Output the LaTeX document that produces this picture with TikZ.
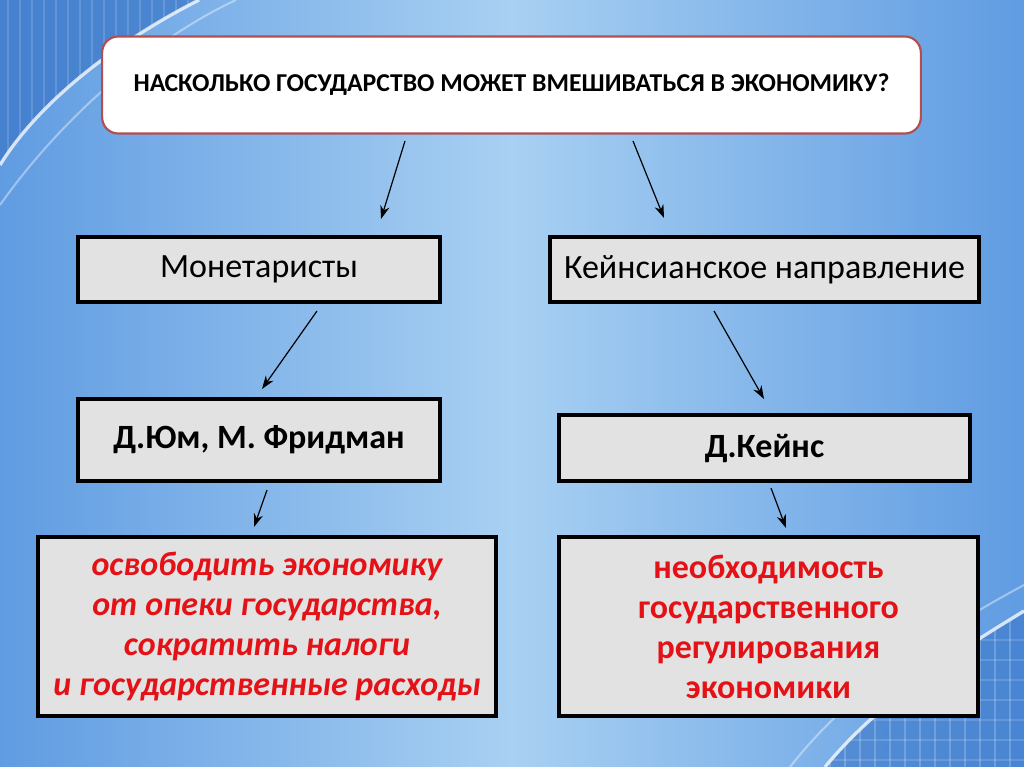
\documentclass[tikz,border=0pt]{standalone}
\usepackage{fontspec}
\setmainfont{Carlito}
\usetikzlibrary{arrows.meta}

\definecolor{bgdark}{RGB}{96,156,226}
\definecolor{bglight}{RGB}{168,208,242}
\definecolor{cornerblue}{RGB}{58,118,200}
\definecolor{boxgrey}{RGB}{226,226,226}
\definecolor{frame}{RGB}{178,78,80}
\definecolor{textred}{RGB}{228,18,22}

\begin{document}
\begin{tikzpicture}[x=0.75pt,y=0.75pt,yscale=-1,xscale=1,
		greybox/.style={draw=black,line width=2.6pt,fill=boxgrey,inner sep=2pt,align=center,font=\fontsize{25.5}{30}\selectfont},
		redtext/.style={text=textred,font=\fontsize{25.5}{30}\selectfont\bfseries},
		link/.style={line width=0.9pt,-{Stealth[length=10pt,width=7pt]}}]
				\useasboundingbox (0,0) rectangle (1024,767);

				%Shape: Background
				\fill [left color=bgdark,right color=bgdark,middle color=bglight] (0,0) rectangle (1024,767);
				%Shape: Corner top left
				\begin{scope}
				\clip (0,0) -- (197,0) .. controls (120,40) and (40,100) .. (0,163) -- cycle;
				\fill [cornerblue,opacity=0.7] (0,0) rectangle (200,170);
				\foreach \s in {8,20,...,200} {\draw [white,opacity=0.15,line width=2pt] (\s,0) -- (\s,170);}
				\end{scope}
				%Shape: Corner bottom right
				\begin{scope}
				\clip (827,767) .. controls (880,700) and (960,650) .. (1024,613) -- (1024,767) -- cycle;
				\fill [cornerblue,opacity=0.6] (820,600) rectangle (1024,767);
				\foreach \s in {830,845,...,1024} {\draw [white,opacity=0.2,line width=1.5pt] (\s,600) -- (\s,767);}
				\foreach \s in {640,660,...,767} {\draw [white,opacity=0.15,line width=1pt] (820,\s) -- (1024,\s);}
				\end{scope}
				%Shape: Arcs
				\draw [white,opacity=0.75,line width=2.5pt] (0,165) .. controls (40,100) and (120,40) .. (199,0);
				\draw [white,opacity=0.4,line width=1.5pt] (0,205) .. controls (60,120) and (150,40) .. (236,0);
				\draw [white,opacity=0.75,line width=2.5pt] (825,767) .. controls (880,700) and (960,650) .. (1024,611);
				\draw [white,opacity=0.4,line width=1.5pt] (790,767) .. controls (850,690) and (940,630) .. (1024,585);

				% Text Node
				\node [draw=frame,line width=1.6pt,fill=white,rounded corners=12pt,minimum width=614pt,minimum height=72.75pt,font=\fontsize{19.3}{23}\selectfont\bfseries] (question) at (511.5,85) {НАСКОЛЬКО ГОСУДАРСТВО МОЖЕТ ВМЕШИВАТЬСЯ В ЭКОНОМИКУ?};
				% Text Node
				\node [greybox,minimum width=271.5pt,minimum height=48.75pt] (monet) at (259,269.5) {Монетаристы};
				% Text Node
				\node [greybox,minimum width=321.75pt,minimum height=48.75pt] (keynsian) at (764.5,269.5) {Кейнсианское направление};
				% Text Node
				\node [greybox,minimum width=271.5pt,minimum height=61.5pt,font=\fontsize{25.5}{30}\selectfont\bfseries] (hume) at (259,440) {Д.Юм, М. Фридман};
				% Text Node
				\node [greybox,minimum width=308.25pt,minimum height=49.5pt,font=\fontsize{25.5}{30}\selectfont\bfseries] (keynes) at (764.5,448) {Д.Кейнс};
				% Text Node
				\node [greybox,minimum width=343.5pt,minimum height=134.25pt,redtext,font=\fontsize{25.5}{30}\selectfont\bfseries\itshape] (freedom) at (267,626.5) {освободить экономику\\от опеки государства,\\сократить налоги\\ и государственные расходы};
				% Text Node
				\node [greybox,minimum width=314.25pt,minimum height=134.25pt,redtext] (regulation) at (768.5,626.5) {необходимость\\государственного\\регулирования\\экономики};

				%Straight Lines
				\coordinate (q1) at (405,141); \coordinate (q1e) at (381,219);
				\coordinate (q2) at (633,141); \coordinate (q2e) at (664,218);
				\coordinate (m1) at (317,311); \coordinate (m1e) at (262,389);
				\coordinate (k1) at (714,311); \coordinate (k1e) at (764,399);
				\coordinate (h1) at (267,490); \coordinate (h1e) at (254,527);
				\coordinate (d1) at (771,488); \coordinate (d1e) at (786,528);
				\draw [link] (q1) -- (q1e);
				\draw [link] (q2) -- (q2e);
				\draw [link] (m1) -- (m1e);
				\draw [link] (k1) -- (k1e);
				\draw [link] (h1) -- (h1e);
				\draw [link] (d1) -- (d1e);

		\end{tikzpicture}
\end{document}
